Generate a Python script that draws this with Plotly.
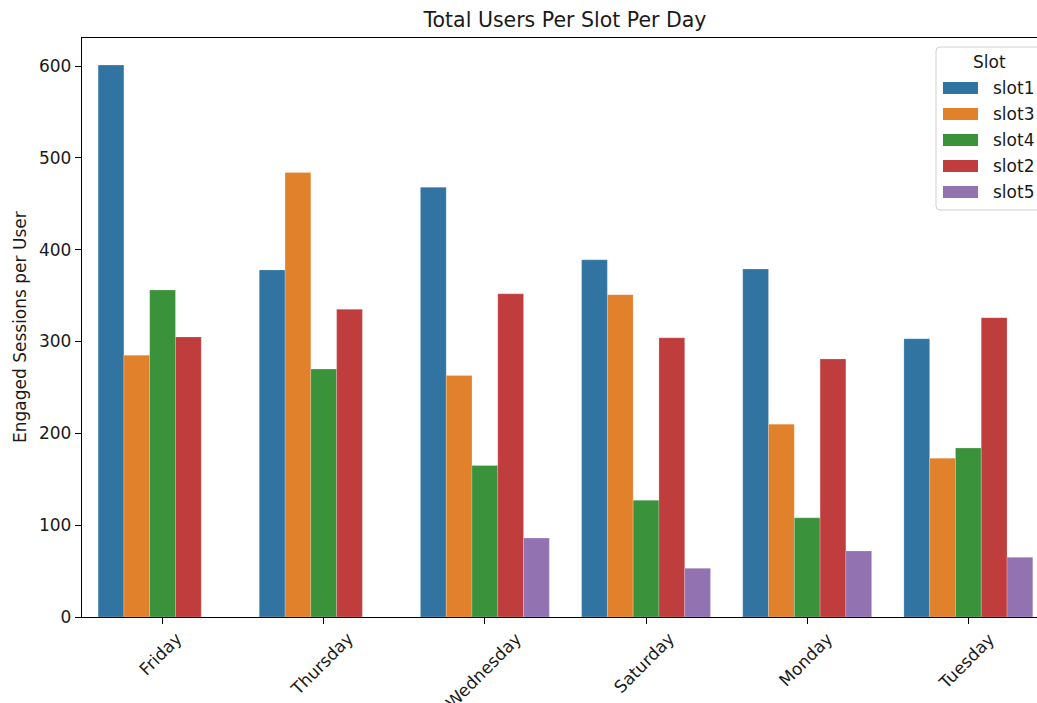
import plotly.graph_objects as go

# Categories and per-slot totals
days = ["Friday", "Thursday", "Wednesday", "Saturday", "Monday", "Tuesday"]
slot_names = ["slot1", "slot3", "slot4", "slot2", "slot5"]
slot1 = [601, 378, 468, 389, 379, 303]
slot3 = [285, 484, 263, 351, 210, 173]
slot4 = [356, 270, 165, 127, 108, 184]
slot2 = [305, 335, 352, 304, 281, 326]
slot5 = [None, None, 86, 53, 72, 65]
y_ticks = [0, 100, 200, 300, 400, 500, 600]

series = [slot1, slot3, slot4, slot2, slot5]
colors = ["#3274a1", "#e1812c", "#3a923a", "#c03d3e", "#9372b2"]

W, H = 1037, 703
L, T, B_PX = 82, 38, 617
PW, PH = W - L, B_PX - T
FONT = "DejaVu Sans"
FS = 17
TXT = "#1a1a1a"


def px_x(px):
    return (px - L) / PW


def px_y(py):
    return (B_PX - py) / PH


fig = go.Figure()
for name, vals, col in zip(slot_names, series, colors):
    fig.add_trace(go.Bar(
        x=days, y=vals, name=name, marker_color=col,
        marker_line_width=0.6, marker_line_color="rgba(255,255,255,0.35)",
        showlegend=False,
    ))

fig.update_layout(
    width=W, height=H,
    margin=dict(l=L, r=0, t=T, b=H - B_PX, pad=0),
    paper_bgcolor="white", plot_bgcolor="white",
    barmode="group", bargap=0.2, bargroupgap=0,
    font=dict(family=FONT, size=FS, color=TXT),
    title=dict(text="Total Users Per Slot Per Day", x=px_x(565), xref="paper",
               xanchor="center", y=1 - 20 / H, yanchor="middle",
               font=dict(size=20.5, color=TXT, family=FONT)),
)

fig.update_xaxes(
    type="category", range=[-0.5, 5.426],
    showline=True, linecolor="black", linewidth=1.3, mirror=True,
    ticks="outside", ticklen=6, tickcolor="black", tickwidth=1.3,
    showticklabels=False, showgrid=False, zeroline=False,
)
fig.update_yaxes(
    range=[0, 630.5], tickvals=y_ticks,
    showline=True, linecolor="black", linewidth=1.3, mirror=False,
    ticks="outside", ticklen=6, tickcolor="black", tickwidth=1.3,
    tickfont=dict(size=FS, color=TXT, family=FONT),
    showgrid=False, zeroline=False,
)

# Rotated day labels under the axis
for d in days:
    fig.add_annotation(
        x=d, xref="x", y=0, yref="paper", yshift=-9, xshift=-2,
        text=d, textangle=-45, showarrow=False,
        xanchor="center", yanchor="top",
        font=dict(size=FS, color=TXT, family=FONT),
    )

# Y axis title
fig.add_annotation(
    x=px_x(19.5), xref="paper", y=0.5, yref="paper",
    text="Engaged Sessions per User", textangle=-90, showarrow=False,
    xanchor="center", yanchor="middle",
    font=dict(size=FS, color=TXT, family=FONT),
)

# Legend box with patches
box_l, box_t, box_b, box_r = 936, 47, 210, 1060
r = 4
rx, ry = r / PW, r / PH
x0, x1 = px_x(box_l), px_x(box_r)
y0, y1 = px_y(box_b), px_y(box_t)
path = (f"M {x0 + rx},{y1} L {x1},{y1} L {x1},{y0} L {x0 + rx},{y0} "
        f"Q {x0},{y0} {x0},{y0 + ry} L {x0},{y1 - ry} Q {x0},{y1} {x0 + rx},{y1} Z")
fig.add_shape(type="path", path=path, xref="paper", yref="paper",
              line=dict(color="#d0d0d0", width=1), fillcolor="rgba(255,255,255,0.8)",
              layer="above")
fig.add_annotation(x=px_x(989), xref="paper", y=px_y(62), yref="paper",
                   text="Slot", showarrow=False, xanchor="center", yanchor="middle",
                   font=dict(size=FS, color=TXT, family=FONT))
entry_y = [88, 114, 140, 166, 192]
for name, col, ey in zip(slot_names, colors, entry_y):
    fig.add_shape(type="rect", xref="paper", yref="paper",
                  x0=px_x(943), x1=px_x(978), y0=px_y(ey + 6), y1=px_y(ey - 6),
                  fillcolor=col, line=dict(width=0), layer="above")
    fig.add_annotation(x=px_x(991), xref="paper", y=px_y(ey), yref="paper",
                       text=name, showarrow=False, xanchor="left", yanchor="middle",
                       font=dict(size=FS, color=TXT, family=FONT))

fig.write_html("out.html")
